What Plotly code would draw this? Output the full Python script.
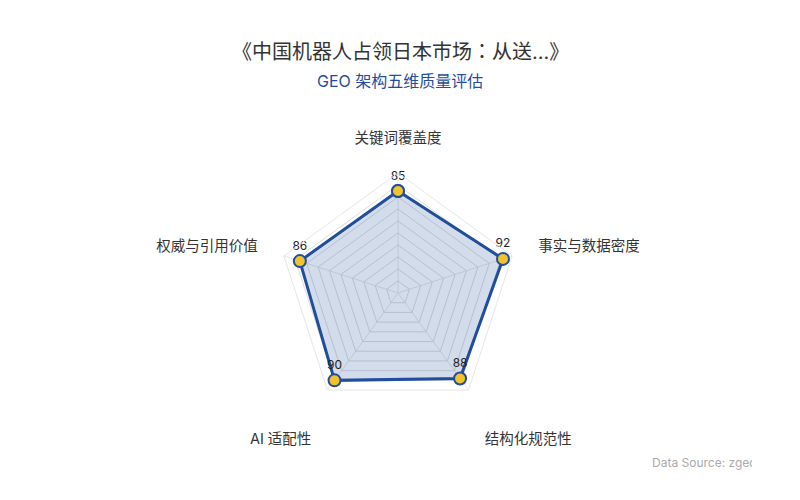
import plotly.graph_objects as go

# 五维评估数据
dimensions = ["关键词覆盖度", "事实与数据密度", "结构化规范性", "AI 适配性", "权威与引用价值"]
scores = [85, 92, 88, 90, 86]

title_text = "《中国机器人占领日本市场：从送...》"
subtitle_text = "GEO 架构五维质量评估"
source_text = "Data Source: zgeo.ai"

BLUE = "#1f4e9c"
GOLD = "#f2c12e"
FONT = "Inter, Noto Sans CJK SC, sans-serif"
TITLE_FONT = "Inter, Noto Sans CJK JP, sans-serif"

# 闭合多边形
r_vals = scores + scores[:1]
theta_vals = dimensions + dimensions[:1]
text_vals = [str(v) for v in scores] + [""]

# 底部两个维度标签下移一行，与原图位置一致
tick_text = [("<br>" + d) if i in (2, 3) else d for i, d in enumerate(dimensions)]

fig = go.Figure()

fig.add_trace(go.Scatterpolar(
    r=r_vals,
    theta=theta_vals,
    mode="lines+markers+text",
    text=text_vals,
    textposition="top center",
    textfont=dict(size=12, color="#222", family=FONT),
    fill="toself",
    fillcolor="rgba(31,78,156,0.2)",
    line=dict(color=BLUE, width=3),
    marker=dict(size=12, color=GOLD, line=dict(color=BLUE, width=2)),
    hoverinfo="skip",
    showlegend=False,
))

fig.update_layout(
    width=800,
    height=500,
    margin=dict(l=0, r=0, t=0, b=0),
    paper_bgcolor="white",
    font=dict(family=FONT, color="#333"),
    polar=dict(
        domain=dict(x=[0.3375, 0.6375], y=[0.19, 0.67]),
        gridshape="linear",
        bgcolor="white",
        radialaxis=dict(
            range=[0, 100],
            dtick=10,
            showticklabels=False,
            ticks="",
            showline=False,
            gridcolor="#dcdcdc",
            gridwidth=1,
        ),
        angularaxis=dict(
            rotation=90,
            direction="clockwise",
            tickmode="array",
            tickvals=dimensions,
            ticktext=tick_text,
            tickfont=dict(size=14.5, color="#333", family=FONT),
            ticks="outside",
            ticklen=24,
            tickcolor="rgba(0,0,0,0)",
            linecolor="#e6e6e6",
            gridcolor="#e6e6e6",
        ),
    ),
    annotations=[
        dict(
            text=title_text, x=392, y=44, xref="paper", yref="paper",
            showarrow=False, font=dict(size=20, color="#333", family=TITLE_FONT),
            xanchor="center", yanchor="middle",
        ),
        dict(
            text=subtitle_text, x=392, y=73, xref="paper", yref="paper",
            showarrow=False, font=dict(size=16, color=BLUE, family=FONT),
            xanchor="center", yanchor="middle",
        ),
        dict(
            text=source_text, x=642, y=454, xref="paper", yref="paper",
            showarrow=False, font=dict(size=12, color="#aaaaaa", family=FONT),
            xanchor="left", yanchor="middle", width=100, align="left",
        ),
    ],
)

# 标注位置换算为 paper 坐标（像素 -> 比例）
for ann in fig.layout.annotations:
    ann.x = ann.x / 800
    ann.y = 1 - ann.y / 500

fig.write_html("out.html")
